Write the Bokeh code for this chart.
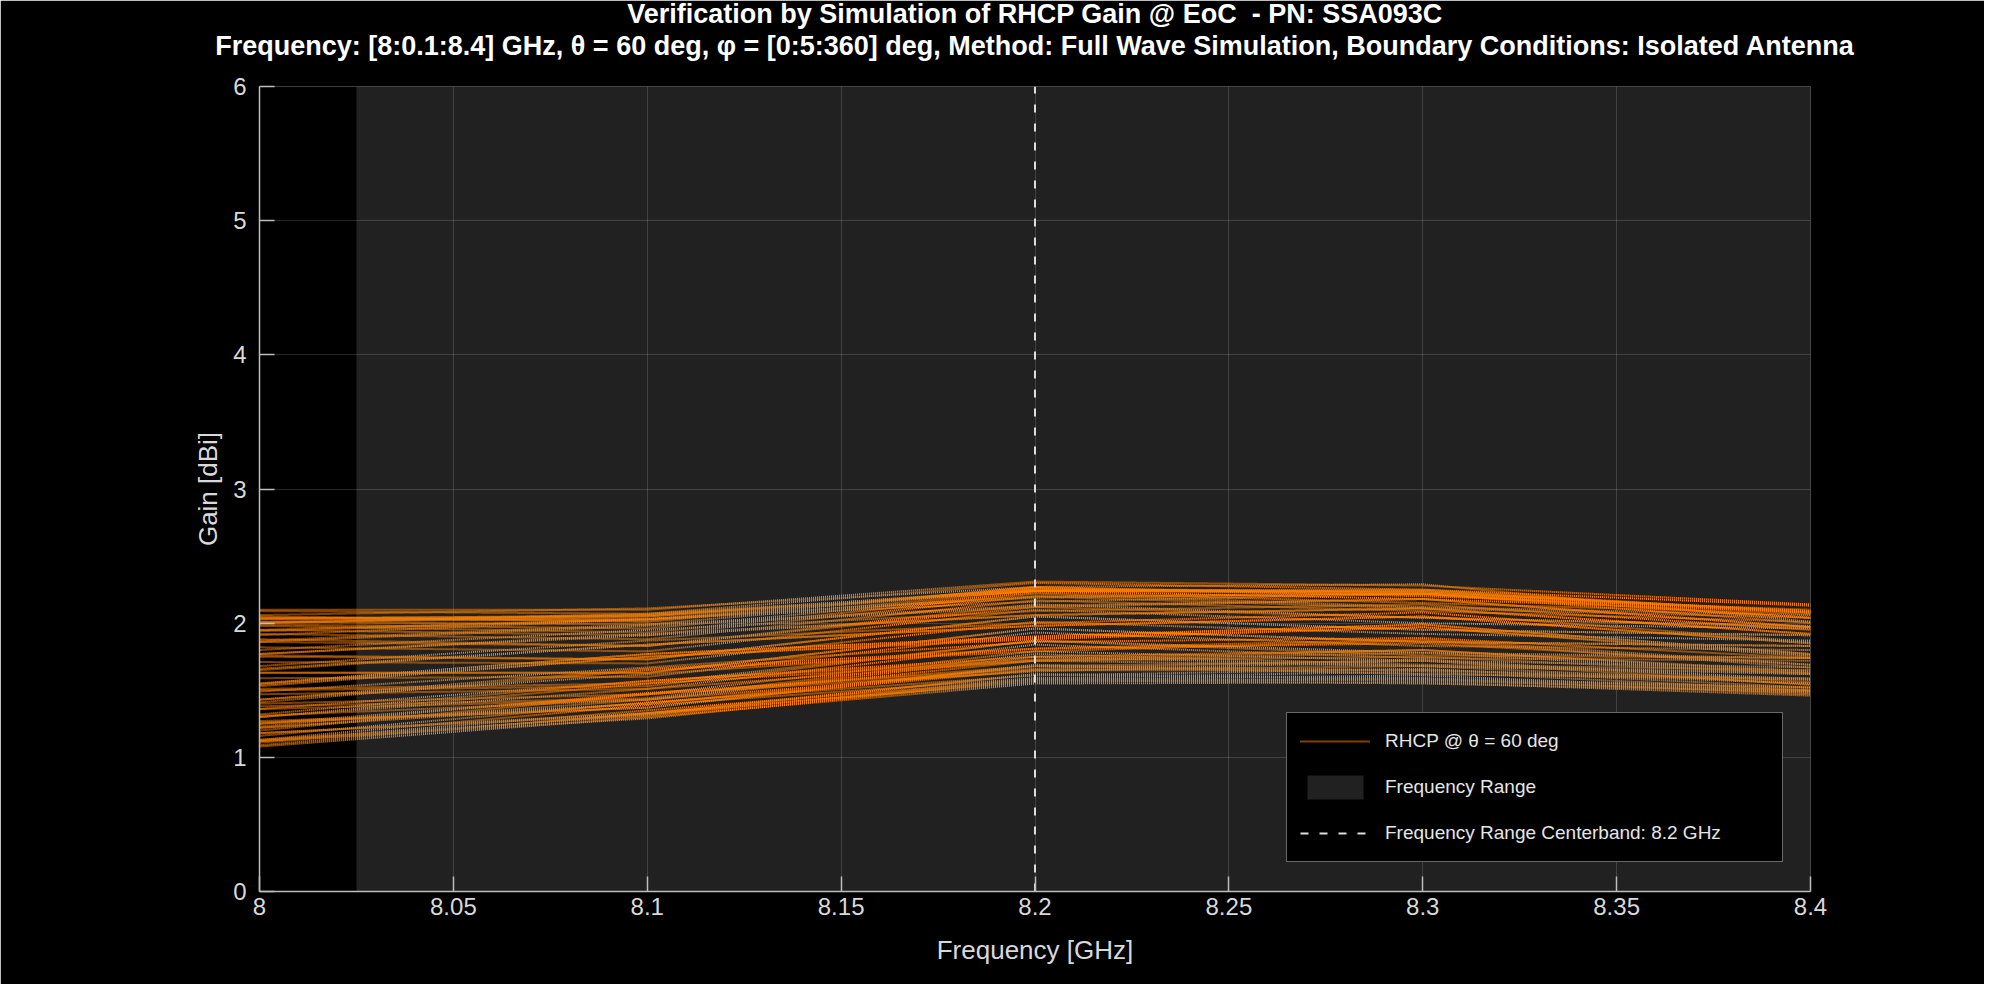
from bokeh.plotting import figure
from bokeh.models import Range1d, FixedTicker, Legend, LegendItem, Title
from bokeh.embed import file_html
from bokeh.resources import INLINE

# frequencies (GHz) and azimuth cuts (deg)
freqs = [8.0, 8.1, 8.2, 8.3, 8.4]
phi = list(range(0, 361, 5))

# RHCP gain [dBi] at theta = 60 deg, one list per frequency, ordered by phi
gain_800 = [1.55, 1.68, 1.80, 1.91, 2.00, 2.06, 2.10, 2.09, 2.05, 1.98, 1.88, 1.76,
            1.63, 1.50, 1.38, 1.27, 1.18, 1.12, 1.08, 1.09, 1.13, 1.20, 1.30, 1.41,
            1.53, 1.65, 1.77, 1.87, 1.95, 2.01, 2.04, 2.03, 1.99, 1.92, 1.82, 1.71,
            1.59, 1.47, 1.36, 1.26, 1.18, 1.13, 1.11, 1.12, 1.16, 1.23, 1.32, 1.43,
            1.54, 1.66, 1.77, 1.86, 1.94, 2.00, 2.03, 2.04, 2.01, 1.95, 1.86, 1.75,
            1.63, 1.51, 1.40, 1.31, 1.25, 1.22, 1.22, 1.25, 1.30, 1.36, 1.43, 1.49,
            1.55]
gain_810 = [1.77, 1.87, 1.95, 2.03, 2.07, 2.11, 2.10, 2.07, 2.01, 1.93, 1.83, 1.73,
            1.63, 1.53, 1.44, 1.37, 1.32, 1.29, 1.30, 1.33, 1.39, 1.47, 1.55, 1.65,
            1.75, 1.84, 1.92, 1.99, 2.03, 2.06, 2.05, 2.02, 1.96, 1.88, 1.79, 1.70,
            1.60, 1.51, 1.43, 1.37, 1.33, 1.31, 1.32, 1.35, 1.41, 1.48, 1.57, 1.66,
            1.75, 1.84, 1.91, 1.98, 2.03, 2.05, 2.06, 2.03, 1.99, 1.91, 1.83, 1.73,
            1.63, 1.55, 1.47, 1.43, 1.40, 1.40, 1.43, 1.47, 1.51, 1.57, 1.62, 1.67,
            1.77]
gain_820 = [1.90, 2.00, 2.09, 2.16, 2.24, 2.27, 2.31, 2.30, 2.27, 2.22, 2.14, 2.05,
            1.96, 1.87, 1.77, 1.69, 1.62, 1.58, 1.55, 1.56, 1.59, 1.64, 1.72, 1.79,
            1.88, 1.98, 2.06, 2.13, 2.20, 2.24, 2.26, 2.25, 2.23, 2.17, 2.10, 2.01,
            1.93, 1.84, 1.75, 1.68, 1.62, 1.59, 1.57, 1.58, 1.61, 1.66, 1.73, 1.81,
            1.89, 1.98, 2.06, 2.12, 2.19, 2.24, 2.25, 2.26, 2.24, 2.20, 2.12, 2.05,
            1.96, 1.87, 1.79, 1.72, 1.68, 1.65, 1.65, 1.68, 1.72, 1.75, 1.81, 1.86,
            1.90]
gain_830 = [1.99, 2.08, 2.14, 2.22, 2.25, 2.29, 2.28, 2.25, 2.20, 2.12, 2.04, 1.95,
            1.86, 1.76, 1.69, 1.62, 1.58, 1.55, 1.56, 1.59, 1.64, 1.72, 1.78, 1.87,
            1.97, 2.05, 2.11, 2.18, 2.22, 2.24, 2.23, 2.21, 2.15, 2.09, 2.00, 1.92,
            1.83, 1.74, 1.68, 1.62, 1.59, 1.57, 1.58, 1.61, 1.66, 1.73, 1.80, 1.88,
            1.97, 2.05, 2.11, 2.18, 2.22, 2.23, 2.24, 2.22, 2.18, 2.11, 2.04, 1.95,
            1.86, 1.78, 1.72, 1.68, 1.65, 1.65, 1.68, 1.72, 1.75, 1.80, 1.85, 1.89,
            1.99]
gain_840 = [1.77, 1.86, 1.95, 2.00, 2.08, 2.01, 2.14, 2.13, 2.10, 2.06, 1.98, 1.91,
            1.83, 1.74, 1.65, 1.59, 1.52, 1.49, 1.46, 1.47, 1.50, 1.54, 1.62, 1.67,
            1.75, 1.85, 1.92, 1.97, 2.04, 2.08, 2.09, 2.08, 2.07, 2.01, 1.96, 1.87,
            1.80, 1.72, 1.63, 1.58, 1.52, 1.50, 1.48, 1.49, 1.52, 1.56, 1.63, 1.69,
            1.76, 1.85, 1.92, 1.97, 2.04, 2.08, 2.08, 2.09, 2.08, 2.04, 1.97, 1.91,
            1.83, 1.74, 1.67, 1.62, 1.58, 1.55, 1.55, 1.58, 1.62, 1.64, 1.69, 1.74,
            1.77]

band = [8.025, 8.4]
center_freq = 8.2
y_lim = [0, 6]
x_ticks = [8.0, 8.05, 8.1, 8.15, 8.2, 8.25, 8.3, 8.35, 8.4]
x_labels = ["8", "8.05", "8.1", "8.15", "8.2", "8.25", "8.3", "8.35", "8.4"]
y_ticks = [0, 1, 2, 3, 4, 5, 6]

title1 = "Verification by Simulation of RHCP Gain @ EoC \u00a0- PN: SSA093C"
title2 = ("Frequency: [8:0.1:8.4] GHz, \u03b8 = 60 deg, \u03c6 = [0:5:360] deg, "
          "Method: Full Wave Simulation, Boundary Conditions: Isolated Antenna")

FONT = "Liberation Sans"
TXT = "#d9d9d9"
AX = "#bdbdbd"

p = figure(width=1984, height=984, output_backend="svg", toolbar_location=None,
           x_range=Range1d(freqs[0], freqs[-1]), y_range=Range1d(y_lim[0], y_lim[1]),
           min_border_left=259, min_border_right=174, min_border_bottom=93,
           min_border_top=86)
p.background_fill_color = "black"
p.border_fill_color = "black"
p.outline_line_color = None

# titles: an empty spacer next to the axes, then the two bold lines
p.add_layout(Title(text=" ", text_font_size="1px", standoff=17), "above")
for txt, so in ((title2, 11), (title1, -10)):
    p.add_layout(Title(text=txt, align="center", text_font=FONT, text_font_size="27px",
                       text_font_style="bold", text_color="white", standoff=so), "above")

# axes
for ax in (p.xaxis[0], p.yaxis[0]):
    ax.axis_line_color = AX
    ax.axis_line_width = 1.5
    ax.major_tick_line_color = AX
    ax.major_tick_line_width = 1.5
    ax.major_tick_in = 15
    ax.major_tick_out = 0
    ax.minor_tick_line_color = None
    ax.major_label_text_color = TXT
    ax.major_label_text_font = FONT
    ax.major_label_text_font_size = "24px"
    ax.axis_label_text_color = TXT
    ax.axis_label_text_font = FONT
    ax.axis_label_text_font_size = "26px"
    ax.axis_label_text_font_style = "normal"

p.xaxis.ticker = FixedTicker(ticks=x_ticks)
p.xaxis.major_label_overrides = dict(zip(x_ticks, x_labels))
p.xaxis.axis_label = "Frequency [GHz]"
p.xaxis.major_label_standoff = 6
p.xaxis.axis_label_standoff = 17

p.yaxis.ticker = FixedTicker(ticks=y_ticks)
p.yaxis.axis_label = "Gain [dBi]"
p.yaxis.major_label_standoff = 13
p.yaxis.axis_label_standoff = 7

p.grid.grid_line_color = "white"
p.grid.grid_line_alpha = 0.15
p.grid.grid_line_width = 1

# frequency range shading (semi-transparent, grid shows through)
rng = p.quad(left=[band[0]], right=[band[1]], bottom=[y_lim[0]], top=[y_lim[1]],
             fill_color="white", fill_alpha=0.13, line_color=None)

# one dotted curve per phi cut
cols = [gain_800, gain_810, gain_820, gain_830, gain_840]
xs = [freqs for _ in phi]
ys = [[c[i] for c in cols] for i in range(len(phi))]
ml = p.multi_line(xs=xs, ys=ys, line_color="#ff8000", line_width=2, line_dash="1 1")

cb = p.line(x=[center_freq, center_freq], y=y_lim, line_color="#dddddd",
            line_width=2, line_dash="8 11")

legend = Legend(items=[
    LegendItem(label="RHCP @ \u03b8 = 60 deg", renderers=[ml]),
    LegendItem(label="Frequency Range", renderers=[rng]),
    LegendItem(label="Frequency Range Centerband: 8.2 GHz", renderers=[cb]),
], location=(1027, 29))
legend.background_fill_color = "black"
legend.background_fill_alpha = 1
legend.border_line_color = "#d0d0d0"
legend.border_line_width = 1.5
legend.label_text_color = "#e6e6e6"
legend.label_text_font = FONT
legend.label_text_font_size = "19px"
legend.glyph_width = 70
legend.glyph_height = 30
legend.label_standoff = 15
legend.label_width = 384
legend.spacing = 16
legend.padding = 13
legend.margin = 0
p.add_layout(legend, "center")

open("out.html", "w").write(file_html(p, INLINE))
